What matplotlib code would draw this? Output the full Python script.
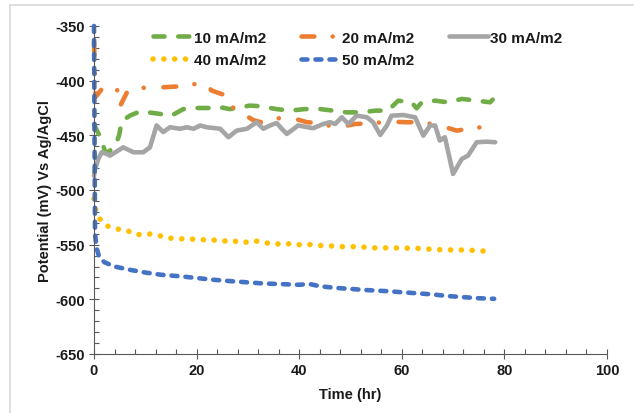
import matplotlib
matplotlib.use("Agg")
import matplotlib.pyplot as plt
from matplotlib.ticker import MultipleLocator
from matplotlib.lines import Line2D

plt.rcParams['font.family'] = ['Liberation Sans', 'DejaVu Sans']
plt.rcParams['font.weight'] = 'bold'
plt.rcParams['axes.unicode_minus'] = False

# 10 mA/m2
t10 = [0, 0.6, 1.2, 2.1, 2.6, 4.1, 4.9, 5.4, 7.0, 9.0, 12.2, 15.1, 17.4, 19.7, 22.6, 24.6, 26.5,
       30.4, 32.4, 35.6, 38.2, 41.1, 44.1, 46.6, 49.3, 52.2, 54.8, 57.3, 59.3, 61.9, 62.9, 63.9,
       66.5, 69.0, 71.7, 74.6, 77.2, 78.2]
v10 = [-440, -446, -451, -464, -466, -460, -450, -437, -432, -428, -430, -432, -426, -425, -425, -424.3, -426,
       -422.8, -423.4, -426, -427.4, -426, -426, -427.4, -429, -429, -427.4, -427.4, -418.3, -419.8, -425.3, -419.8,
       -418.3, -419.8, -416.7, -418.3, -419.8, -415]

# 20 mA/m2
t20 = [0, 0.3, 1.8, 3.6, 4.5, 5.0, 6.5, 7.5, 10.5, 13.7, 17.4, 21.6, 22.9, 26.0, 27.5, 29.0, 31.0,
       32.5, 34.6, 38.2, 41.5, 43.7, 47.4, 50.9, 54.1, 57.4, 60.9, 63.8, 67.4, 70.7, 73.6, 77.3]
v20 = [-365, -415, -406, -406.7, -408, -424, -410, -408, -406, -406, -405, -401.5, -409, -414, -428, -430, -436,
       -438, -435, -433.5, -438, -438.7, -443, -439.6, -439, -437.5, -438, -438, -441, -445.7, -443.5, -441.7]

# 30 mA/m2
t30 = [0, 0.2, 0.84, 1.5, 2.5, 3.1, 5.7, 7.7, 9.6, 10.9, 12.2, 13.5, 14.8, 16.8, 18.1, 19.4, 20.7, 22.0,
       24.6, 26.2, 27.8, 29.8, 31.7, 33.0, 34.3, 35.6, 36.6, 37.6, 39.8, 42.7, 44.7, 46.0, 47.0, 48.3,
       49.6, 51.2, 53.2, 54.4, 55.8, 57.1, 58.0, 60.3, 62.6, 64.2, 65.5, 66.5, 67.4, 68.4, 70.0, 71.7,
       72.9, 74.6, 76.5, 78.2]
v30 = [-487, -481, -471.6, -465.5, -467, -468.6, -461, -465.5, -465.5, -461, -441, -447, -442.6, -444, -442.6, -444, -441, -442.6,
       -444, -451.7, -445.7, -444, -438, -444, -441, -438.7, -444, -448.7, -441, -443.5, -439.6, -438, -439.6, -433.5,
       -439.6, -432, -433.5, -438, -449.6, -441, -432, -431.4, -433.5, -450.3, -441, -441, -454.8, -451.7, -485.3, -471.6,
       -468.6, -456.3, -455.8, -456.3]

# 40 mA/m2
t40 = [0, 0.2, 0.84, 2.3, 4.4, 6.4, 8.3, 10.3, 12.2, 14.3, 16.4, 18.6, 20.7, 22.7, 24.9, 27.0, 28.9,
       30.9, 33.0, 35.1, 37.1, 39.2, 41.3, 43.3, 45.4, 47.4, 49.6, 51.7, 53.8, 55.9, 58.1, 60.2, 62.4,
       64.5, 66.6, 68.8, 71.0, 73.1, 75.2, 77.3]
v40 = [-508, -515.7, -524.9, -532.5, -535.6, -537, -541, -540, -541, -543.8, -544.7, -544.7, -545.6, -545.3, -546.8, -546.2, -548.6,
       -546.2, -547.7, -549.9, -548.4, -550.5, -549.3, -550.8, -550.8, -551.7, -552, -551.7, -553, -552.9, -552.9, -553.2, -553.2,
       -553.8, -554.5, -554.8, -554.8, -555, -555.7, -555.9]

# 50 mA/m2
t50 = [0, 0.2, 0.5, 1, 2, 4, 7, 10, 13, 17, 20, 23, 27, 30, 33, 36, 40, 42, 44, 47, 50, 53, 57,
       60, 63, 66, 69, 72, 75, 78]
v50 = [-350, -540, -553, -561, -566, -570, -573, -575.5, -577.5, -579, -580.5, -582, -583.5, -584.5, -585.5, -586, -586.7,
       -586, -588, -589.5, -590.5, -591.5, -592.5, -593.5, -594.5, -595.5, -597, -598, -599, -599.5]

labels = ['10 mA/m2', '20 mA/m2', '30 mA/m2', '40 mA/m2', '50 mA/m2']

fig = plt.figure(figsize=(6.34, 4.14), dpi=100)
ax = fig.add_axes([94 / 634, 1 - 355 / 414, (607 - 94) / 634, (355 - 27) / 414])

lw = 3.3
common = dict(dash_capstyle='round', solid_capstyle='round', solid_joinstyle='round', clip_on=False)
l10, = ax.plot(t10, v10, color='#70AD47', lw=lw, linestyle=(0, (2.4, 3.0)), **common)
l20, = ax.plot(t20, v20, color='#ED7D31', lw=lw, linestyle=(0, (2.8, 4.0, 0.01, 4.3)), **common)
l30, = ax.plot(t30, v30, color='#A5A5A5', lw=lw, linestyle='-', **common)
l40, = ax.plot(t40, v40, color='#FFC000', lw=4.0, linestyle=(0, (0.01, 1.94)), **common)
l50, = ax.plot(t50, v50, color='#4472C4', lw=lw, linestyle=(0, (1.3, 1.75)), **common)

ax.set_xlim(0, 100)
ax.set_ylim(-650, -350)
ax.xaxis.set_major_locator(MultipleLocator(20))
ax.xaxis.set_minor_locator(MultipleLocator(4))
ax.yaxis.set_major_locator(MultipleLocator(50))
ax.yaxis.set_minor_locator(MultipleLocator(10))
ax.tick_params(which='major', direction='inout', length=7, width=0.8, color='#595959',
               labelsize=10.5, labelcolor='#1a1a1a', pad=3)
ax.tick_params(which='minor', direction='in', length=3.5, width=0.8, color='#595959')
for s in ['top', 'right']:
    ax.spines[s].set_visible(False)
for s in ['left', 'bottom']:
    ax.spines[s].set_color('#595959')
    ax.spines[s].set_linewidth(0.8)
for lab in ax.get_xticklabels() + ax.get_yticklabels():
    lab.set_fontweight('bold')

ax.set_xlabel('Time (hr)', fontsize=10.5, fontweight='bold', color='#1a1a1a', labelpad=7)
ax.set_ylabel('Potential (mV) Vs Ag/AgCl', fontsize=10.5, fontweight='bold', color='#1a1a1a', labelpad=2)

h_dummy = Line2D([], [], linestyle='none')
leg_handles = [l10, l40, l20, l50, l30, h_dummy]
leg_labels = [labels[0], labels[3], labels[1], labels[4], labels[2], '']
leg = fig.legend(leg_handles, leg_labels, ncol=3, loc='upper left',
                 bbox_to_anchor=(139 / 634, 1 - 18 / 414), frameon=False,
                 handlelength=2.6, handletextpad=0.1, columnspacing=2.25,
                 labelspacing=0.55, prop={'size': 11, 'weight': 'bold'})
for txt in leg.get_texts():
    txt.set_color('#1a1a1a')

# light chart border (only left/top visible in the crop)
fig.add_artist(Line2D([10 / 634, 10 / 634], [0, 1 - 6 / 414], color='#D9D9D9', lw=1.2))
fig.add_artist(Line2D([10 / 634, 1], [1 - 6 / 414, 1 - 6 / 414], color='#D9D9D9', lw=1.2))

fig.savefig('out.png', dpi=100)
